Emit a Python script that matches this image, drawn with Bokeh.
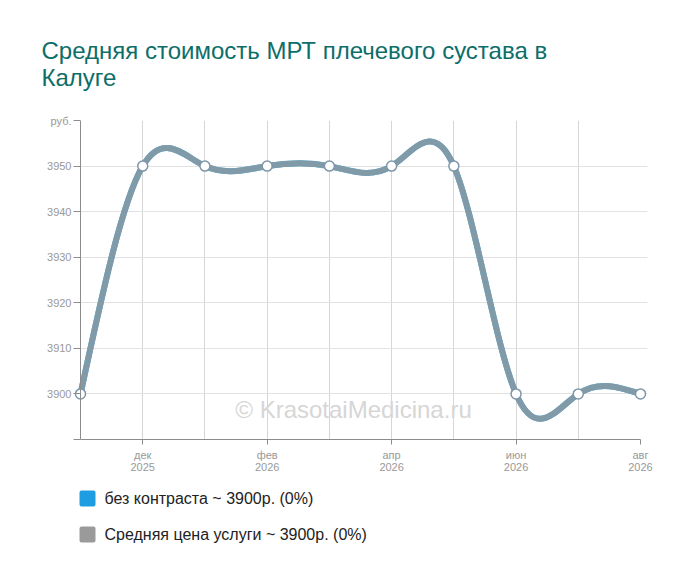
import numpy as np
from bokeh.core.properties import value
from bokeh.embed import file_html
from bokeh.layouts import column
from bokeh.models import FixedTicker, Label, Span, Title
from bokeh.plotting import figure
from bokeh.resources import INLINE

# --- data ------------------------------------------------------------------
months = ["ноя\n2025", "дек\n2025", "янв\n2026", "фев\n2026", "мар\n2026",
          "апр\n2026", "май\n2026", "июн\n2026", "июл\n2026", "авг\n2026"]
price_no_contrast = [3900, 3950, 3950, 3950, 3950, 3950, 3950, 3900, 3900, 3900]
price_average = [3900, 3950, 3950, 3950, 3950, 3950, 3950, 3900, 3900, 3900]
labeled_months = [1, 3, 5, 7, 9]
y_ticks = [3890, 3900, 3910, 3920, 3930, 3940, 3950, 3960]
y_grid = [3900, 3910, 3920, 3930, 3940, 3950]
legend_labels = ["без контраста ~ 3900р. (0%)", "Средняя цена услуги ~ 3900р. (0%)"]
series_colors = ["#1e9de2", "#9a9a9a"]
title_text = "Средняя стоимость МРТ плечевого сустава в\nКалуге"

FONT = "Liberation Sans"
PAD = 7 / (560 / 9)   # a few pixels either side so the end markers are whole


def spline_segments(ys):
    """Natural cubic spline through the points, as bezier segments."""
    y = np.asarray(ys, dtype=float)
    n = len(y)
    a = np.zeros((n, n))
    r = np.zeros(n)
    a[0, 0] = a[-1, -1] = 1
    for i in range(1, n - 1):
        a[i, i - 1:i + 2] = [1, 4, 1]
        r[i] = 6 * (y[i - 1] - 2 * y[i] + y[i + 1])
    m = np.linalg.solve(a, r)
    d = np.empty(n)
    d[:-1] = (y[1:] - y[:-1]) - (2 * m[:-1] + m[1:]) / 6
    d[-1] = (y[-1] - y[-2]) + (m[-2] + 2 * m[-1]) / 6
    x = np.arange(n, dtype=float)
    return dict(x0=x[:-1], y0=y[:-1], x1=x[1:], y1=y[1:],
                cx0=x[:-1] + 1 / 3, cy0=y[:-1] + d[:-1] / 3,
                cx1=x[1:] - 1 / 3, cy1=y[1:] - d[1:] / 3)


n_last = len(months) - 1
p = figure(width=700, height=480,
           x_range=(-PAD, n_last + PAD), y_range=(y_ticks[0], y_ticks[-1]),
           output_backend="svg", toolbar_location=None, tools="",
           min_border_left=73, min_border_right=53,
           min_border_top=120, min_border_bottom=41)
p.outline_line_color = None
p.title = None

# grid
p.xgrid.ticker = FixedTicker(ticks=list(range(1, n_last)))
p.xgrid.grid_line_color = "#d6d6d6"
p.ygrid.ticker = FixedTicker(ticks=y_grid)
p.ygrid.grid_line_color = "#e2e2e2"

# axes
for ax in (p.xaxis, p.yaxis):
    ax.axis_line_color = "#8c8c8c"
    ax.major_tick_line_color = "#8c8c8c"
    ax.minor_tick_line_color = None
    ax.major_label_text_color = "#999999"
    ax.major_label_text_font = FONT
    ax.major_label_text_font_size = "11px"

p.xaxis.ticker = FixedTicker(ticks=labeled_months)
p.xaxis.bounds = (0, n_last)
p.xaxis.major_label_overrides = {i: months[i] for i in labeled_months}
p.xaxis.major_tick_in = 0
p.xaxis.major_tick_out = 5
p.xaxis.major_label_standoff = 4
p.xaxis.major_label_text_line_height = 1.0

# y axis line sits at the first month; ticks reach it from the frame edge
p.yaxis.ticker = FixedTicker(ticks=y_ticks)
p.yaxis.major_label_overrides = {y_ticks[0]: "", y_ticks[-1]: "руб."}
p.yaxis.axis_line_color = None
p.yaxis.major_tick_in = 7
p.yaxis.major_tick_out = 0
p.yaxis.major_label_standoff = 2
p.add_layout(Span(location=0, dimension="height", line_color="#8c8c8c",
                  line_width=1))

# series: blue underneath, grey on top
idx = list(range(len(months)))
for vals, color, alpha in ((price_no_contrast, series_colors[0], 1.0),
                           (price_average, series_colors[1], 0.8)):
    seg = spline_segments(vals)
    p.bezier(line_color=color, line_width=6, line_alpha=alpha,
             line_cap="round", **seg)

p.scatter(idx, price_average, size=10, fill_color="white",
          line_color="#7f97a8", line_width=1.5)

# two-line title
p.add_layout(Title(text=title_text, align="left", offset=-32, standoff=60,
                   text_font=FONT, text_font_size="24px",
                   text_line_height=1.0,
                   text_font_style="normal", text_color="#0d6e69"), "above")

# watermark
p.add_layout(Label(x=280, y=30, x_units="screen", y_units="screen",
                   text="© KrasotaiMedicina.ru", text_font=FONT,
                   text_font_size="24px", text_color="#d6d6d6",
                   text_align="center", text_baseline="middle"))

# legend strip under the chart; its frame is aligned with the chart frame
# (page x 73..647), so x is given in page pixels, y downwards
leg = figure(width=700, height=103, x_range=(73, 647), y_range=(103, 0),
             output_backend="svg", toolbar_location=None, tools="",
             x_axis_location=None, y_axis_location=None, min_border=0)
leg.outline_line_color = None
leg.grid.grid_line_color = None
leg_y = [18, 54]
leg.scatter([87, 87], leg_y, marker="square", size=12,
            fill_color=series_colors, line_color=series_colors,
            line_width=4, line_join="round")
leg.text([104, 104], leg_y, text=legend_labels, text_font=value(FONT),
         text_font_size="16px", text_color="#222222",
         text_baseline="middle")

open("out.html", "w").write(file_html(column(p, leg, spacing=0), INLINE))
